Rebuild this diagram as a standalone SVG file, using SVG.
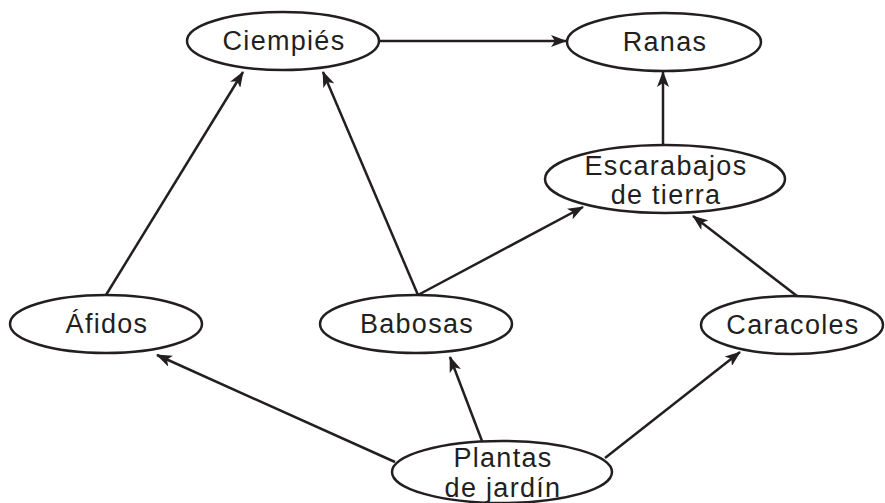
<svg xmlns="http://www.w3.org/2000/svg" width="885" height="503" viewBox="0 0 885 503">
<defs>
<style>
.n ellipse{fill:#fff;stroke:#231f20;stroke-width:2.5}
.n text{font-family:"Liberation Sans",Arial,sans-serif;font-size:27px;letter-spacing:1.3px;fill:#231f20;text-anchor:middle}
.e line{stroke:#231f20;stroke-width:2.5;marker-end:url(#ah)}
</style>
<marker id="ah" viewBox="0 0 16 12" refX="15" refY="6" markerWidth="16" markerHeight="12" markerUnits="userSpaceOnUse" orient="auto">
<path d="M0,0 L16,6 L0,12 L4,6 Z" fill="#231f20"/>
</marker>
</defs>
<rect width="885" height="503" fill="#fff"/>
<g id="edges" class="e">
<line x1="378" y1="41" x2="566" y2="41"/>
<line x1="663" y1="145" x2="663" y2="72"/>
<line x1="106" y1="295" x2="243" y2="72"/>
<line x1="418" y1="295" x2="323" y2="72"/>
<line x1="418" y1="295" x2="583" y2="207"/>
<line x1="797" y1="296" x2="693" y2="216"/>
<line x1="395" y1="462" x2="157" y2="355"/>
<line x1="482" y1="441" x2="450" y2="357"/>
<line x1="605" y1="458" x2="740" y2="352"/>
</g>
<g id="ciempies" class="n"><ellipse cx="283" cy="41" rx="96" ry="29"/><text x="284" y="50">Ciempiés</text></g>
<g id="ranas" class="n"><ellipse cx="664" cy="42" rx="97" ry="29"/><text x="665" y="51">Ranas</text></g>
<g id="escarabajos" class="n"><ellipse cx="665" cy="179" rx="120" ry="34"/><text x="666" y="175">Escarabajos</text><text x="666" y="204">de tierra</text></g>
<g id="afidos" class="n"><ellipse cx="106" cy="324" rx="96" ry="29"/><text x="107" y="333">Áfidos</text></g>
<g id="babosas" class="n"><ellipse cx="416" cy="324" rx="96" ry="29"/><text x="417" y="333">Babosas</text></g>
<g id="caracoles" class="n"><ellipse cx="792" cy="325" rx="91" ry="29"/><text x="793" y="334">Caracoles</text></g>
<g id="plantas" class="n"><ellipse cx="502" cy="472" rx="110" ry="31"/><text x="503" y="467">Plantas</text><text x="503" y="497">de jardín</text></g>
</svg>
